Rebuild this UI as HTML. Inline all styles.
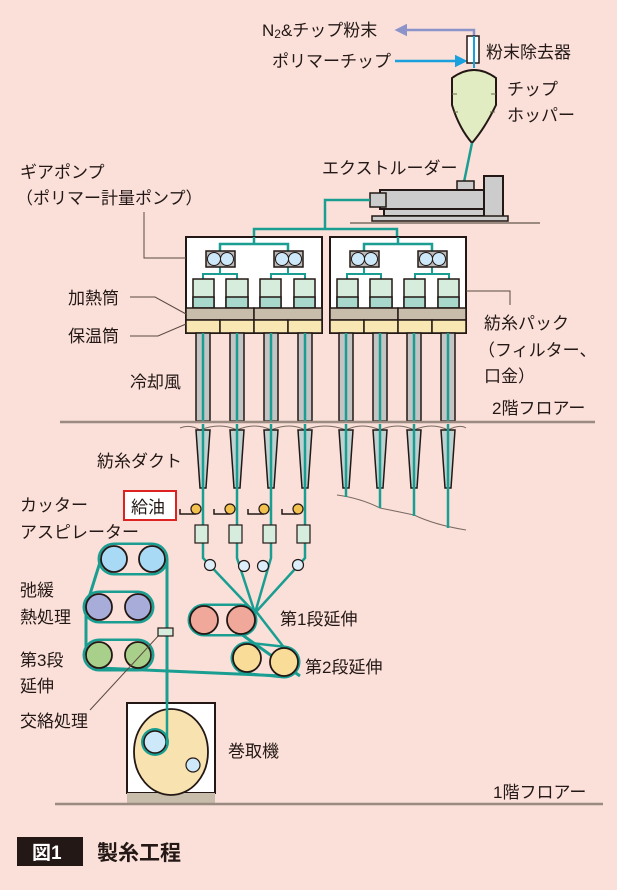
<!DOCTYPE html>
<html><head><meta charset="utf-8"><style>
html,body{margin:0;padding:0;background:#fbe0da;}
svg{display:block;}
text{font-family:"Liberation Sans","Noto Sans CJK JP",sans-serif;font-size:17px;fill:#231815;}
</style></head><body>
<svg width="617" height="890" viewBox="0 0 617 890">
<rect width="617" height="890" fill="#fbe0da"/>
<defs>
<marker id="ap" markerWidth="5" markerHeight="5" refX="2" refY="2.5" orient="auto" markerUnits="strokeWidth"><path d="M0,0 L5,2.5 L0,5z" fill="#8c93c8"/></marker>
<marker id="ab" markerWidth="5" markerHeight="5" refX="2" refY="2.5" orient="auto" markerUnits="strokeWidth"><path d="M0,0 L5,2.5 L0,5z" fill="#1aa0dc"/></marker>
</defs>
<!-- top arrows -->
<path d="M474,48 V30 H402" fill="none" stroke="#8c93c8" stroke-width="2.5" marker-end="url(#ap)"/>
<path d="M395,61 H460" fill="none" stroke="#1aa0dc" stroke-width="2.5" marker-end="url(#ab)"/>
<rect x="467" y="36" width="12" height="27" fill="#fff" stroke="#231815" stroke-width="1.5"/>
<line x1="474" y1="36" x2="474" y2="68" stroke="#1aa0dc" stroke-width="2"/>
<text x="262" y="36">N<tspan font-size="12" dy="2">2</tspan><tspan dy="-2">&amp;チップ粉末</tspan></text>
<text x="272" y="67">ポリマーチップ</text>
<text x="486" y="58">粉末除去器</text>
<!-- hopper -->
<path d="M452,78 Q474,62 496,78 V105 Q485,128 472,143 Q459,128 452,105 Z" fill="#e2ecc2" stroke="#231815" stroke-width="2"/>
<g stroke="#6b6b4b" stroke-width="1"><line x1="452" y1="94" x2="457" y2="94"/><line x1="491" y1="94" x2="496" y2="94"/><line x1="453" y1="112" x2="458" y2="112"/><line x1="490" y1="112" x2="495" y2="112"/></g>
<text x="507" y="95">チップ</text>
<text x="507" y="121">ホッパー</text>
<line x1="472" y1="143" x2="464" y2="182" stroke="#1a9e92" stroke-width="2.5"/>
<!-- extruder -->
<text x="322" y="174">エクストルーダー</text>
<rect x="457" y="181" width="17" height="9" fill="#ccc" stroke="#231815" stroke-width="1.5"/>
<rect x="380" y="190" width="104" height="19" fill="#ccc" stroke="#231815" stroke-width="2"/>
<rect x="384" y="209" width="100" height="7" fill="#ccc" stroke="#231815" stroke-width="2"/>
<rect x="484" y="176" width="19" height="41" fill="#ccc" stroke="#231815" stroke-width="2"/>
<rect x="372" y="216" width="136" height="5" fill="#ccc" stroke="#231815" stroke-width="1.5"/>
<line x1="350" y1="223" x2="540" y2="223" stroke="#9a8a80" stroke-width="2"/>
<rect x="370" y="193" width="16" height="14" fill="#ccc" stroke="#231815" stroke-width="1.5"/>
<path d="M370,200 H325 V229 H254 V237 M325,229 H397 V247" fill="none" stroke="#1a9e92" stroke-width="2.5"/>
<!-- boxes -->
<g id="box1">
<rect x="186" y="237" width="136" height="96" fill="#fff" stroke="#231815" stroke-width="2"/>
<path d="M220,260 V244 H288 V260 M254,237 V244" fill="none" stroke="#1a9e92" stroke-width="2.5"/>
<path d="M220,267 V274 H203 V279 M220,274 H237 V279 M288,267 V274 H271 V279 M288,274 H305 V279" fill="none" stroke="#1a9e92" stroke-width="2"/>
<rect x="206" y="251" width="29" height="16" fill="#bbb" stroke="#231815" stroke-width="1.5"/>
<circle cx="214" cy="259" r="6.5" fill="#cde8f8" stroke="#231815"/><circle cx="227" cy="259" r="6.5" fill="#cde8f8" stroke="#231815"/>
<rect x="274" y="251" width="29" height="16" fill="#bbb" stroke="#231815" stroke-width="1.5"/>
<circle cx="282" cy="259" r="6.5" fill="#cde8f8" stroke="#231815"/><circle cx="295" cy="259" r="6.5" fill="#cde8f8" stroke="#231815"/>
<g stroke="#231815" stroke-width="1.5">
<rect x="193" y="279" width="21" height="29" fill="#d6ecdc"/><rect x="193" y="297" width="21" height="11" fill="#a8d8cc"/>
<rect x="226" y="279" width="22" height="29" fill="#d6ecdc"/><rect x="226" y="297" width="22" height="11" fill="#a8d8cc"/>
<rect x="260" y="279" width="21" height="29" fill="#d6ecdc"/><rect x="260" y="297" width="21" height="11" fill="#a8d8cc"/>
<rect x="294" y="279" width="21" height="29" fill="#d6ecdc"/><rect x="294" y="297" width="21" height="11" fill="#a8d8cc"/>
<rect x="186" y="308" width="68" height="12" fill="#c8bcaa"/><rect x="254" y="308" width="68" height="12" fill="#c8bcaa"/>
<rect x="186" y="320" width="34" height="13" fill="#f8e7b2"/><rect x="220" y="320" width="34" height="13" fill="#f8e7b2"/>
<rect x="254" y="320" width="34" height="13" fill="#f8e7b2"/><rect x="288" y="320" width="34" height="13" fill="#f8e7b2"/>
</g>
</g>
<use href="#box1" x="144"/>
<!-- tubes -->
<g>
<g id="tube"><rect x="196" y="333" width="14" height="88" fill="#c4c4c4" stroke="#231815" stroke-width="1.5"/><line x1="203" y1="333" x2="203" y2="421" stroke="#1a9e92" stroke-width="2.5"/></g>
<use href="#tube" x="34"/><use href="#tube" x="68"/><use href="#tube" x="102"/>
<use href="#tube" x="143"/><use href="#tube" x="177"/><use href="#tube" x="211"/><use href="#tube" x="245"/>
</g>
<line x1="60" y1="422" x2="595" y2="422" stroke="#9a8a80" stroke-width="2.5"/>
<path d="M180,428 Q190,424 200,430 Q220,422 237,430 Q255,422 271,430 Q290,422 305,430 Q325,422 346,430 Q362,422 380,430 Q398,422 414,430 Q432,422 448,430 Q460,424 466,428" fill="none" stroke="#7a6a60" stroke-width="1"/>
<!-- ducts -->
<g id="duct"><path d="M196,430 L210,430 L206,488 L200,488 Z" fill="#bfd0d0" stroke="#231815" stroke-width="1.5"/><line x1="203" y1="424" x2="203" y2="488" stroke="#1a9e92" stroke-width="2.5"/></g>
<use href="#duct" x="34"/><use href="#duct" x="68"/><use href="#duct" x="102"/>
<use href="#duct" x="143"/><use href="#duct" x="177"/><use href="#duct" x="211"/><use href="#duct" x="245"/>
<path d="M337,495 Q360,498 380,508 Q400,512 414,515 Q435,525 466,530" fill="none" stroke="#7a6a60" stroke-width="1"/>
<g stroke="#1a9e92" stroke-width="2.5"><line x1="346" y1="488" x2="346" y2="497"/><line x1="380" y1="488" x2="380" y2="508"/><line x1="414" y1="488" x2="414" y2="516"/><line x1="448" y1="488" x2="448" y2="528"/></g>
<text x="97" y="467">紡糸ダクト</text>
<!-- threads to first stage -->
<g fill="none" stroke="#1a9e92" stroke-width="2.5">
<path d="M203,488 V558 L255,613"/><path d="M237,488 V558 L255,613"/><path d="M271,488 V558 L255,613"/><path d="M305,488 V558 L255,613"/>
<path d="M255,610 L296,663"/>
</g>
<!-- oil -->
<rect x="124" y="491" width="52" height="29" fill="#fff" stroke="#d22" stroke-width="2"/>
<text x="131" y="513">給油</text>
<g fill="none" stroke="#231815" stroke-width="1.5">
<path d="M180,509 V514 H196"/><path d="M214,509 V514 H230"/><path d="M248,509 V514 H264"/><path d="M282,509 V514 H298"/>
</g>
<g fill="#f3c14d" stroke="#231815" stroke-width="1.2"><circle cx="196" cy="509" r="5"/><circle cx="230" cy="509" r="5"/><circle cx="264" cy="509" r="5"/><circle cx="298" cy="509" r="5"/></g>
<g fill="#d6ecdc" stroke="#231815" stroke-width="1.2"><rect x="195" y="525" width="13" height="18"/><rect x="229" y="525" width="13" height="18"/><rect x="263" y="525" width="13" height="18"/><rect x="297" y="525" width="13" height="18"/></g>
<g fill="#dbeef9" stroke="#231815" stroke-width="1.2"><circle cx="210" cy="565" r="5.5"/><circle cx="244" cy="566" r="5.5"/><circle cx="263" cy="566" r="5.5"/><circle cx="298" cy="565" r="5.5"/></g>
<text x="20" y="511">カッター</text>
<text x="20" y="538">アスピレーター</text>
<!-- belt stadiums -->
<g stroke-linecap="round" fill="none">
<g stroke="#1a9e92" stroke-width="33">
<line x1="204" y1="620" x2="241" y2="620"/><line x1="247" y1="658" x2="284" y2="662"/>
<line x1="114" y1="559" x2="152" y2="559"/><line x1="99" y1="607" x2="138" y2="607"/><line x1="99" y1="655" x2="138" y2="655"/>
</g>
<g stroke="#fbe0da" stroke-width="28">
<line x1="204" y1="620" x2="241" y2="620"/><line x1="247" y1="658" x2="284" y2="662"/>
<line x1="114" y1="559" x2="152" y2="559"/><line x1="99" y1="607" x2="138" y2="607"/><line x1="99" y1="655" x2="138" y2="655"/>
</g>
</g>
<!-- first stage -->
<path d="M241,634 L300,676" fill="none" stroke="#1a9e92" stroke-width="3"/>
<g fill="#f0a89a" stroke="#231815" stroke-width="1.8"><circle cx="204" cy="620" r="14"/><circle cx="241" cy="620" r="14"/></g>
<text x="280" y="625">第1段延伸</text>
<!-- second stage -->
<path d="M284,676 L99,668" fill="none" stroke="#1a9e92" stroke-width="3"/>
<g fill="#f8dc98" stroke="#231815" stroke-width="1.8"><circle cx="247" cy="658" r="14"/><circle cx="284" cy="662" r="14"/></g>
<text x="305" y="673">第2段延伸</text>
<!-- left rollers -->
<path d="M167,559 V740 M101,559 L86,607 V655" fill="none" stroke="#1a9e92" stroke-width="3"/>
<g stroke="#231815" stroke-width="1.8">
<circle cx="114" cy="559" r="13" fill="#a9daf5"/><circle cx="152" cy="559" r="13" fill="#a9daf5"/>
<circle cx="99" cy="607" r="13" fill="#a7acd8"/><circle cx="138" cy="607" r="13" fill="#a7acd8"/>
<circle cx="99" cy="655" r="13" fill="#a9d08a"/><circle cx="138" cy="655" r="13" fill="#a9d08a"/>
</g>
<line x1="160" y1="634" x2="90" y2="710" stroke="#5a4a40" stroke-width="1"/>
<rect x="158" y="628" width="15" height="8" fill="#d6ecdc" stroke="#231815" stroke-width="1.2"/>
<text x="20" y="596">弛緩</text>
<text x="20" y="623">熱処理</text>
<text x="20" y="666">第3段</text>
<text x="20" y="692">延伸</text>
<text x="20" y="727">交絡処理</text>
<!-- winder -->
<rect x="127" y="703" width="88" height="90" fill="#fff" stroke="#231815" stroke-width="2"/>
<rect x="127" y="793" width="88" height="10" fill="#c8bcaa"/>
<ellipse cx="171" cy="752" rx="37" ry="43" fill="#f8e2b0" stroke="#231815" stroke-width="1.8"/>
<circle cx="155" cy="742" r="14" fill="#1a9e92"/>
<circle cx="155" cy="742" r="11" fill="#cde8f8" stroke="#231815" stroke-width="1.5"/>
<circle cx="193" cy="765" r="7" fill="#cde8f8" stroke="#231815" stroke-width="1.2"/>
<line x1="167" y1="700" x2="167" y2="745" stroke="#1a9e92" stroke-width="2.5"/>
<text x="228" y="757">巻取機</text>
<line x1="55" y1="804" x2="603" y2="804" stroke="#9a8a80" stroke-width="2.5"/>
<text x="493" y="798">1階フロアー</text>
<!-- labels -->
<text x="20" y="178">ギアポンプ</text>
<text x="16" y="204">（ポリマー計量ポンプ）</text>
<path d="M144,212 V258 H186" fill="none" stroke="#5a4a40" stroke-width="1"/>
<text x="68" y="304">加熱筒</text>
<path d="M130,297 H155 L186,314" fill="none" stroke="#5a4a40" stroke-width="1"/>
<text x="68" y="342">保温筒</text>
<path d="M130,336 H158 L186,324" fill="none" stroke="#5a4a40" stroke-width="1"/>
<text x="130" y="388">冷却風</text>
<path d="M466,291 H510 V305" fill="none" stroke="#5a4a40" stroke-width="1"/>
<text x="484" y="329">紡糸パック</text>
<text x="478" y="356">（フィルター、</text>
<text x="484" y="382">口金）</text>
<text x="492" y="414">2階フロアー</text>
<!-- caption -->
<rect x="17" y="837" width="66" height="29" fill="#231815"/>
<text x="32" y="859" style="fill:#fff;font-weight:bold;font-size:19px">図1</text>
<text x="97" y="860" style="font-size:21px;font-weight:bold">製糸工程</text>
</svg>
</body></html>
